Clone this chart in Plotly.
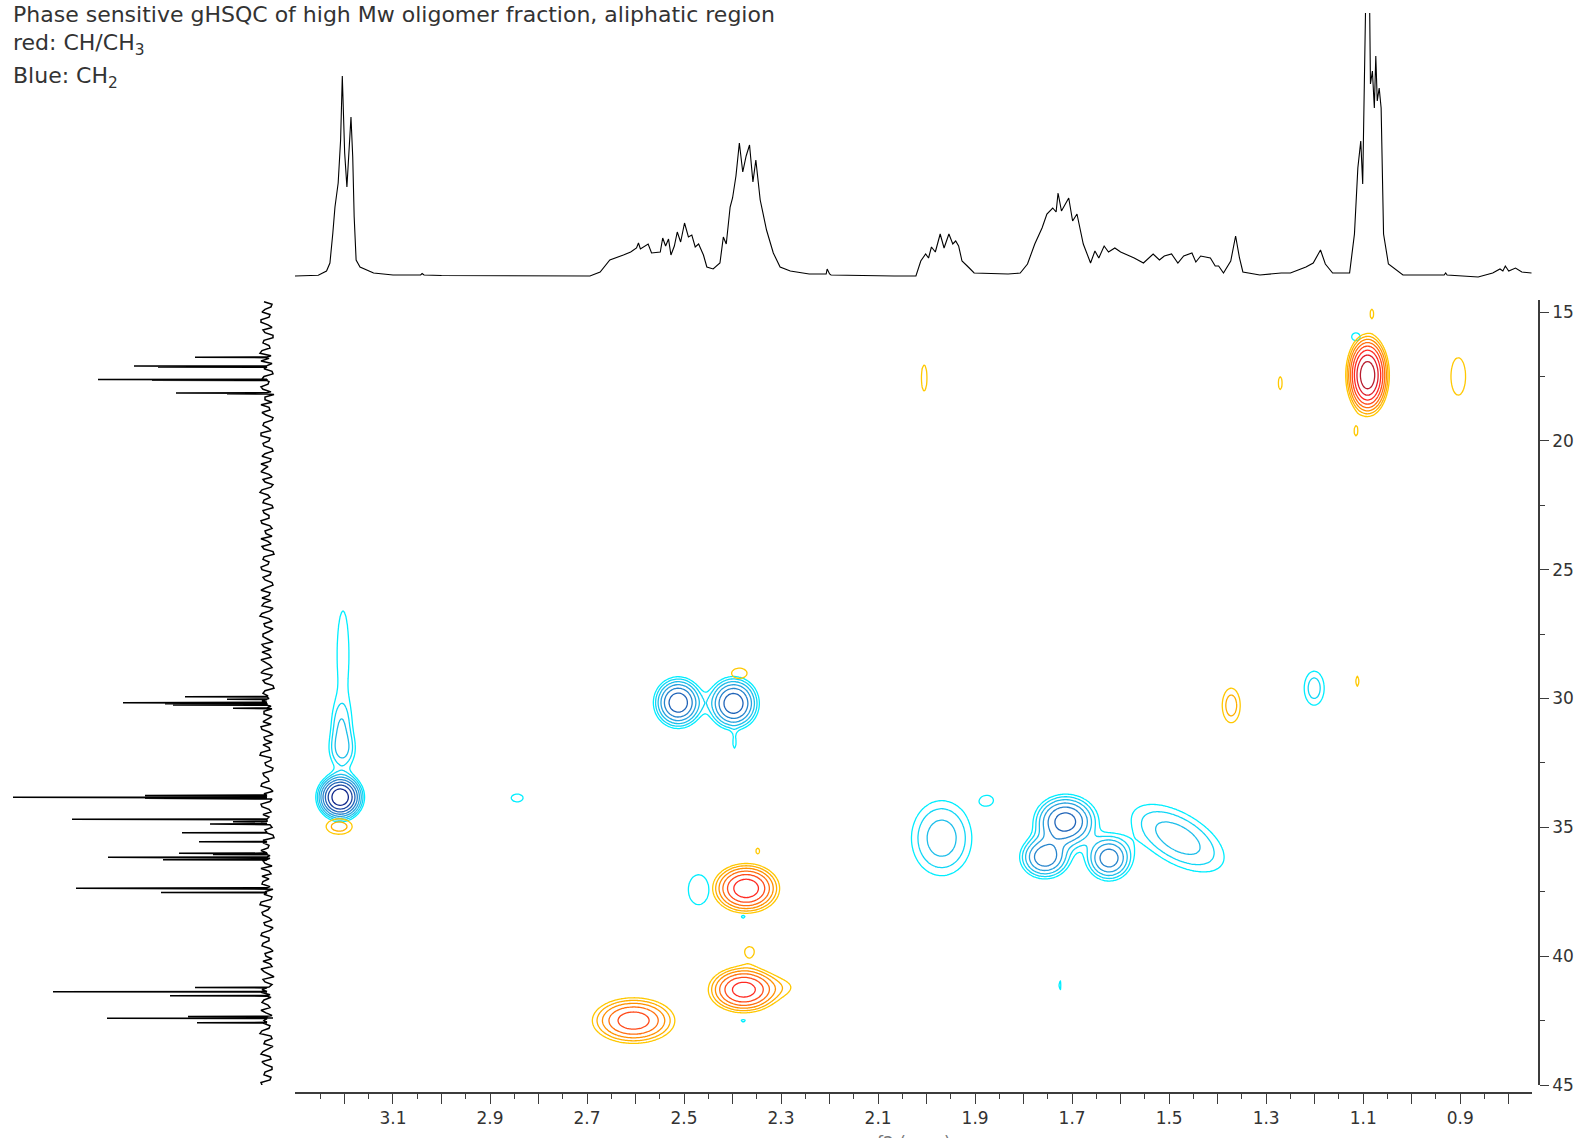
import numpy as np
import plotly.graph_objects as go

# ------------------------------------------------------------------ data
# 1H projection (top trace): chemical shift (ppm) and intensity (arb.)
h_ppm = [3.302, 3.254, 3.237, 3.230, 3.224, 3.2196, 3.213, 3.208, 3.2045, 3.2025,
         3.1996, 3.195, 3.1913, 3.1866, 3.183, 3.180, 3.176, 3.168, 3.140, 3.100,
         3.043, 3.040, 3.036, 3.000, 2.694, 2.673, 2.653, 2.640, 2.625, 2.610,
         2.598, 2.594, 2.590, 2.574, 2.567, 2.549, 2.544, 2.538, 2.532, 2.527,
         2.520, 2.514, 2.507, 2.499, 2.491, 2.484, 2.477, 2.470, 2.460, 2.453,
         2.440, 2.426, 2.419, 2.413, 2.405, 2.400, 2.393, 2.386, 2.379, 2.372,
         2.365, 2.358, 2.352, 2.343, 2.330, 2.316, 2.302, 2.281, 2.260, 2.242,
         2.207, 2.205, 2.200, 2.197, 2.067, 2.022, 2.012, 2.002, 1.996, 1.990,
         1.982, 1.972, 1.964, 1.954, 1.946, 1.940, 1.934, 1.927, 1.912, 1.902,
         1.832, 1.807, 1.792, 1.777, 1.762, 1.752, 1.740, 1.733, 1.729, 1.722,
         1.707, 1.699, 1.690, 1.677, 1.662, 1.653, 1.645, 1.634, 1.625, 1.612,
         1.600, 1.590, 1.572, 1.553, 1.533, 1.520, 1.510, 1.495, 1.482, 1.470,
         1.453, 1.445, 1.435, 1.415, 1.405, 1.398, 1.388, 1.373, 1.363, 1.355,
         1.348, 1.313, 1.269, 1.250, 1.218, 1.203, 1.188, 1.178, 1.163, 1.128,
         1.118, 1.111, 1.105, 1.101, 1.098, 1.093, 1.088, 1.085, 1.081, 1.077,
         1.074, 1.071, 1.067, 1.063, 1.058, 1.048, 1.018, 0.933, 0.930, 0.927,
         0.863, 0.833, 0.818, 0.812, 0.807, 0.800, 0.786, 0.773, 0.753]
h_int = [0, 0.7, 5, 13, 43, 69, 93, 136, 200, 176,
         123, 89, 121, 159, 119, 59, 16, 9, 3, 1,
         1, 2.5, 1, 0.5, 0, 4, 16, 18, 21, 24,
         28, 33, 27, 32, 23, 24, 38, 30, 37, 21,
         30, 44, 34, 53, 39, 41, 29, 32, 21, 9,
         7, 13, 39, 32, 69, 78, 100, 133, 104, 120,
         131, 94, 116, 76, 46, 23, 9, 5, 3, 2,
         2, 7, 2, 1, 0, 0, 15, 22, 18, 29,
         24, 42, 28, 42, 32, 35, 30, 15, 8, 3,
         2, 3, 12, 32, 48, 62, 68, 64, 83, 65,
         78, 55, 62, 32, 13, 25, 18, 30, 24, 28,
         24, 22, 18, 13, 22, 16, 20, 22, 13, 20,
         23, 14, 20, 18, 10, 10, 3, 15, 40, 18,
         4, 1, 3, 3, 9, 13, 26, 12, 3, 3,
         42, 108, 135, 92, 203, 330, 330, 192, 205, 168,
         220, 175, 188, 168, 42, 12, 1, 1, 3, 1,
         -1, 3, 7, 5, 10, 5, 8, 4, 3]

# 13C projection (left trace): peak positions (ppm) and heights (arb.)
c_peak_ppm = [16.76, 17.10, 17.13, 17.62, 17.65, 18.14, 18.17,
              29.93, 30.03, 30.16, 30.20, 30.25, 30.38,
              33.76, 33.83, 33.87, 34.69, 34.78, 34.87, 35.21, 35.56,
              36.01, 36.05, 36.16, 36.26, 37.36, 37.53,
              41.22, 41.38, 41.54, 42.34, 42.41, 42.58]
c_peak_int = [72, 133, 109, 169, 115, 91, 40,
              82, 40, 144, 102, 94, 34,
              122, 254, 122, 195, 34, 57, 85, 68,
              88, 54, 159, 104, 191, 106,
              72, 214, 97, 79, 160, 70]
# 13C baseline noise (arb.), sampled every 0.2 ppm from 14.6 ppm (set a)
c_noise = [3, -4, 5, -2, 6, -5, 2, -6, 4, -3, 7, -2, -5, 3, -6, 5, -1, 4, -7, 2,
           6, -3, 1, -5, 4, -4, 6, -2, 3, -6, 5, -3, -1, 6, -5, 2, -4, 7, -3, 4,
           -6, 3, -2, 5, -5, 1, 6, -4, 3, -7, 4, -1, 5, -3, 2, -6, 6, -2, -4, 5,
           -3, 7, -5, 2, -2, 4, -6, 3, 5, -4, 1, -5, 6, -3, 2, -7, 4, -2, 6, -5,
           3, -1, -4, 5, -6, 2, 4, -3, 7, -4, 1, -5, 3, -2, 6, -6, 2, -3, 5, -4,
           -2, 6, -5, 3, -7, 4, -1, 5, -3, 2, 6, -4, -2, 5, -6, 3, -4, 7, -1, 4,
           -5, 2, -3, 6, -2, 5, -6, 1, 4, -5, 3, -7, 2, -2, 6, -4, 5, -3, 1, -6,
           4, -2, 7, -5, 3, -1, 6, -4, 2, -5, 3, -3, 5]
# 13C baseline noise (arb.), sampled every 0.2 ppm from 14.7 ppm (set b)
c_noise_b = [-5, 2, -3, 6, -1, 4, -6, 3, -2, 5, -4, 6, 1, -5, 3, -2, 6, -4, 2, -5,
             -2, 5, -6, 3, -1, 6, -3, 4, -5, 2, -4, 6, 3, -2, 4, -6, 5, -1, 3, -5,
             4, -2, 6, -3, 2, -5, -1, 5, -6, 3, -2, 6, -4, 4, -5, 1, -3, 5, 3, -6,
             5, -2, 3, -6, 4, -1, 5, -4, -2, 6, -3, 3, -5, 4, -6, 2, -1, 5, -4, 3,
             -5, 4, 6, -2, 3, -5, -2, 6, -4, 2, -6, 4, -1, 5, -3, 3, -5, 6, -2, 4,
             5, -3, 2, -6, 4, -2, 6, -3, 4, -5, -2, 5, 4, -3, 2, -5, 6, -3, 5, -2,
             3, -6, 5, -2, 4, -3, 2, -5, -3, 6, -2, 4, -5, 5, -3, 3, -1, 6, -5, 3,
             -3, 5, -4, 2, -6, 4, -3, 5, -5, 2, -4, 6]
c_noise_start = 14.6
c_noise_b_start = 14.7
c_noise_step = 0.2

# 2D cross peaks, positive phase (red: CH/CH3)
pos_x   = [1.091, 2.372, 2.377, 2.285, 2.604, 3.211, 1.372, 0.904, 2.005, 1.271,
           2.386, 2.348, 2.365, 1.082, 1.115, 1.112]
pos_y   = [17.45, 37.37, 41.30, 41.20, 42.50, 34.97, 30.27, 17.50, 17.56, 17.76,
           29.02, 35.90, 39.80, 15.05, 19.64, 29.33]
pos_amp = [14.0, 7.0, 6.5, 0.78, 4.8, 1.7, 1.7, 1.2, 1.15, 1.1,
           1.15, 1.08, 1.12, 1.1, 1.1, 1.1]
pos_sx  = [0.0196, 0.035, 0.0377, 0.030, 0.048, 0.026, 0.018, 0.025, 0.011, 0.009,
           0.030, 0.007, 0.018, 0.007, 0.007, 0.007]
pos_sy  = [0.70, 0.49, 0.465, 0.40, 0.50, 0.29, 0.65, 1.20, 0.95, 0.57,
           0.38, 0.20, 0.34, 0.34, 0.34, 0.45]
pos_rho = [0, 0, 0, 0, 0, 0, 0, 0, 0, 0, 0, 0, 0, 0, 0, 0]

# 2D cross peaks, negative phase (blue: CH2)
neg_x   = [3.209, 3.205, 3.207, 3.203, 2.512, 2.398, 2.470, 1.969, 1.874, 1.714,
           1.756, 1.624, 1.482, 1.201, 2.844, 1.115, 2.396, 2.378, 2.378, 1.725]
neg_y   = [33.83, 32.00, 31.00, 28.30, 30.16, 30.19, 37.42, 35.42, 33.95, 34.78,
           36.16, 36.20, 35.42, 29.60, 33.86, 15.96, 31.79, 38.47, 42.50, 41.13]
neg_amp = [14.0, 1.6, 1.1, 1.15, 7.0, 7.0, 1.2, 2.4, 1.1, 6.5,
           5.0, 4.8, 2.4, 1.7, 1.1, 1.1, 1.05, 1.05, 1.05, 1.08]
neg_sx  = [0.0218, 0.020, 0.015, 0.023, 0.026, 0.027, 0.035, 0.047, 0.020, 0.034,
           0.029, 0.027, 0.072, 0.020, 0.028, 0.020, 0.006, 0.010, 0.015, 0.005]
neg_sy  = [0.405, 0.50, 0.60, 3.20, 0.51, 0.53, 0.96, 1.10, 0.30, 0.55,
           0.47, 0.50, 0.99, 0.64, 0.35, 0.35, 0.35, 0.15, 0.15, 0.50]
neg_rho = [0, 0, 0, 0, 0, 0, 0, 0, 0, 0, 0, 0, -0.56, 0, 0, 0, 0, 0, 0, 0]

# contour levels: geometric, ratio between successive levels
level_ratio = 1.4
n_levels = 8
pos_colors = ["#FFC800", "#FFAE00", "#FF9000", "#FF7010", "#FF4A1A", "#FF2A22", "#E01E2A", "#B81C2E"]
neg_colors = ["#00EEFF", "#10D6F6", "#1EBEEA", "#28A2DE", "#2684CC", "#2064B8", "#1A44A0", "#10288C"]

x_label_vals = [3.1, 2.9, 2.7, 2.5, 2.3, 2.1, 1.9, 1.7, 1.5, 1.3, 1.1, 0.9]
y_label_vals = [15, 20, 25, 30, 35, 40, 45]

title_lines = ["Phase sensitive gHSQC of high Mw oligomer fraction, aliphatic region",
               "red: CH/CH<sub>3</sub>",
               "Blue: CH<sub>2</sub>"]

# ------------------------------------------------------------------ geometry
W, H = 1580, 1138
X0, X1 = 295, 1532          # plot area, px
Y0, Y1 = 300, 1085
XAXIS_Y = 1093
YAXIS_X = 1539
x_range = [3.302, 0.752]
y_range = [45.0, 14.534]


def fx(px):
    return px / W


def fy(py):
    return 1 - py / H


FONT = "DejaVu Sans"
AX = "#3c3c3c"

# ------------------------------------------------------------------ 2D field
gx = np.arange(0.74, 3.315, 0.003)
gy = np.arange(14.4, 45.2, 0.06)
GX, GY = np.meshgrid(gx, gy)


def field(xs, ys, amps, sxs, sys_, rhos):
    f = np.zeros_like(GX)
    for x0, y0, a, sx, sy, r in zip(xs, ys, amps, sxs, sys_, rhos):
        u = (GX - x0) / sx
        v = (GY - y0) / sy
        q = (u * u + v * v - 2 * r * u * v) / (1 - r * r)
        f += a * np.exp(-0.5 * q)
    return f


def to_levels(f):
    z = np.log(np.maximum(f, 1e-6)) / np.log(level_ratio)
    z = np.clip(z, -2, n_levels + 2)
    return np.round(z, 2)


zpos = to_levels(field(pos_x, pos_y, pos_amp, pos_sx, pos_sy, pos_rho))
zneg = to_levels(field(neg_x, neg_y, neg_amp, neg_sx, neg_sy, neg_rho))


def cscale(cols):
    n = len(cols)
    return [[i / (n - 1), c] for i, c in enumerate(cols)]


fig = go.Figure()

for z, cols in ((zneg, neg_colors), (zpos, pos_colors)):
    fig.add_trace(go.Contour(
        x=gx, y=gy, z=z, xaxis="x", yaxis="y",
        autocontour=False,
        contours=dict(start=0, end=n_levels - 1, size=1, coloring="lines"),
        colorscale=cscale(cols), zmin=0, zmax=n_levels - 1,
        line=dict(width=1.3, smoothing=0.6),
        showscale=False, hoverinfo="skip"))

# ------------------------------------------------------------------ 1H trace (top)
fig.add_trace(go.Scatter(x=h_ppm, y=h_int, xaxis="x2", yaxis="y2", mode="lines",
                         line=dict(color="black", width=1.1), hoverinfo="skip"))

# ------------------------------------------------------------------ 13C trace (left)
pts = [(c_noise_start + i * c_noise_step, v) for i, v in enumerate(c_noise)]
pts += [(c_noise_b_start + i * c_noise_step, v) for i, v in enumerate(c_noise_b)]
for p, h in zip(c_peak_ppm, c_peak_int):
    pts += [(p - 0.012, 0.0), (p, h), (p + 0.012, 0.0)]
pts.sort(key=lambda t: t[0])
fig.add_trace(go.Scatter(x=[t[1] for t in pts], y=[t[0] for t in pts], xaxis="x3", yaxis="y",
                         mode="lines", line=dict(color="black", width=1.5), hoverinfo="skip"))

# ------------------------------------------------------------------ axes
x_major = [round(v, 2) for v in np.arange(0.8, 3.25, 0.1)]
x_text = [("%.1f" % v) if any(abs(v - l) < 1e-6 for l in x_label_vals) else "" for v in x_major]
x_minor = [round(v + 0.05, 2) for v in x_major] + [0.75]
y_minor = [v + 2.5 for v in y_label_vals[:-1]]

tickfont = dict(family=FONT, size=17, color="#333333")

fig.update_layout(
    width=W, height=H,
    margin=dict(l=0, r=0, t=0, b=0),
    paper_bgcolor="white", plot_bgcolor="white",
    showlegend=False,
    template="none",
    xaxis=dict(domain=[fx(X0), fx(X1)], range=x_range, anchor="free", position=fy(XAXIS_Y),
               showline=True, linecolor=AX, linewidth=1.5, showgrid=False, zeroline=False,
               ticks="outside", ticklen=10, tickwidth=1.3, tickcolor=AX,
               tickmode="array", tickvals=x_major, ticktext=x_text, tickfont=tickfont,
               minor=dict(tickmode="array", tickvals=x_minor, ticks="outside", ticklen=5,
                          tickwidth=1.2, tickcolor=AX, showgrid=False),
               automargin=False),
    yaxis=dict(domain=[fy(Y1), fy(Y0)], range=y_range, anchor="free", position=fx(YAXIS_X),
               side="right", showline=True, linecolor=AX, linewidth=1.5, showgrid=False,
               zeroline=False, ticks="outside", ticklen=9, tickwidth=1.3, tickcolor=AX,
               tickmode="array", tickvals=y_label_vals, ticktext=[str(v) for v in y_label_vals],
               tickfont=tickfont,
               minor=dict(tickmode="array", tickvals=y_minor, ticks="outside", ticklen=5,
                          tickwidth=1.2, tickcolor=AX, showgrid=False),
               automargin=False),
    xaxis2=dict(domain=[fx(X0), fx(X1)], matches="x", anchor="y2", visible=False),
    yaxis2=dict(domain=[fy(290), fy(13)], range=[-14, 263], anchor="x2", visible=False),
    xaxis3=dict(domain=[fx(5), fx(285)], range=[262, -18], anchor="y", visible=False),
)

for txt, yc in zip(title_lines, [14, 45, 77]):
    fig.add_annotation(xref="paper", yref="paper", x=fx(11), y=fy(yc), xanchor="left",
                       yanchor="middle", showarrow=False, text=txt,
                       font=dict(family=FONT, size=22, color="#333333"))

fig.add_annotation(xref="paper", yref="paper", x=fx((X0 + X1) / 2), y=fy(1131), xanchor="center",
                   yanchor="top", showarrow=False, text="f2 (ppm)",
                   font=dict(family=FONT, size=17, color="#777777"))

fig.write_html("out.html",
               config={"displayModeBar": False},
               post_script="document.body.style.margin='0';document.body.style.overflow='hidden';")
